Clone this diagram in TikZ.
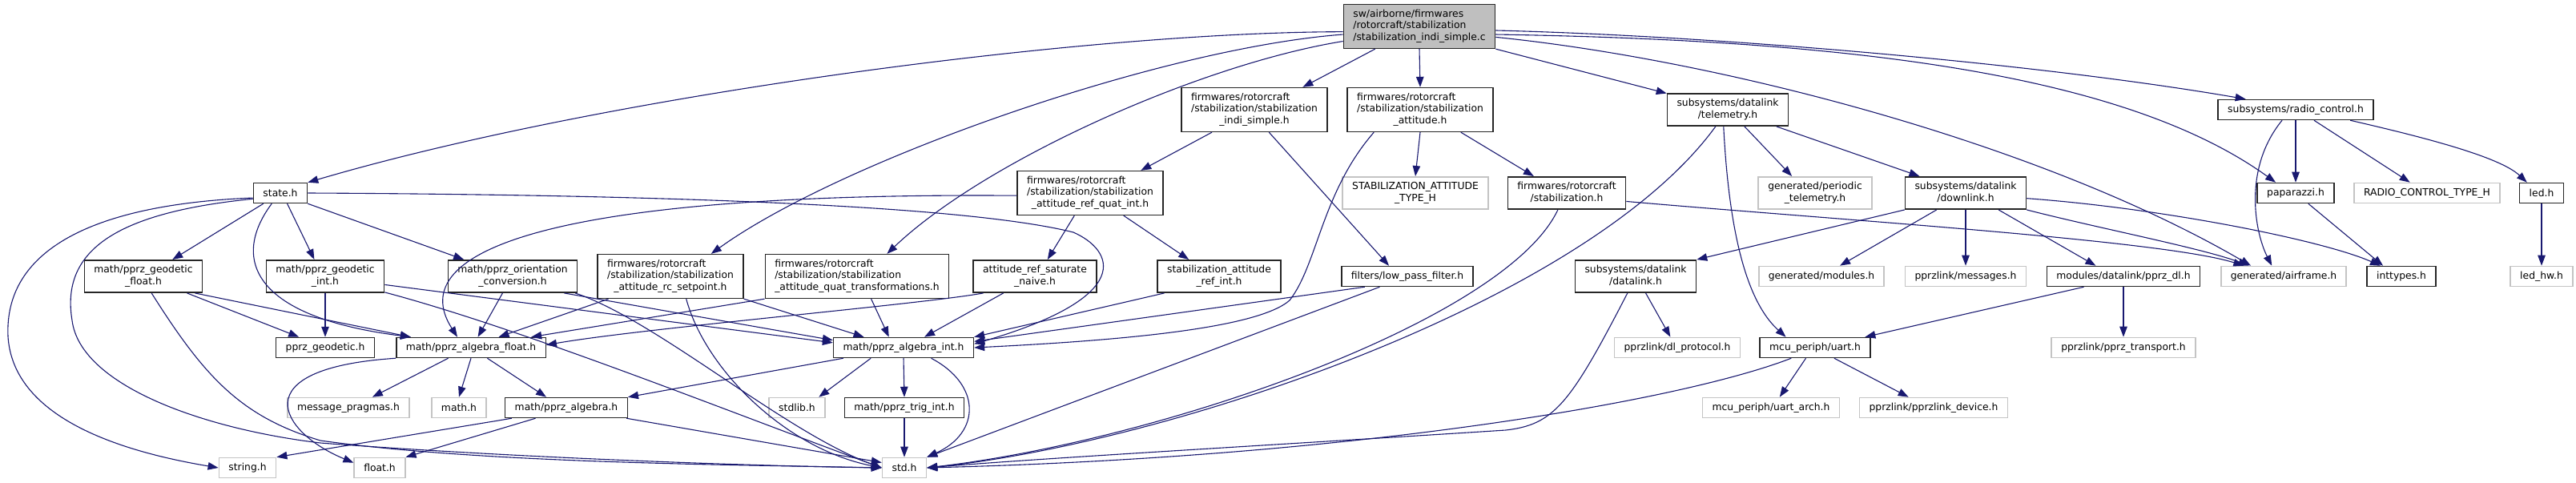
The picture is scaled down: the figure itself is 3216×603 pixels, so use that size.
\documentclass[tikz,border=0pt]{standalone}
\usepackage{fontspec}
\setmainfont{DejaVu Sans}
\usepackage{tikz}
\usetikzlibrary{arrows.meta}
\definecolor{Edge}{HTML}{191970}
\definecolor{Ghost}{HTML}{C4C4C4}
\definecolor{RootFill}{HTML}{BFBFBF}
\newcommand{\twol}[2]{\begin{tabular}{@{}l@{}}#1\\\multicolumn{1}{@{}c@{}}{#2}\end{tabular}}
\newcommand{\threel}[3]{\begin{tabular}{@{}l@{}}#1\\#2\\\multicolumn{1}{@{}c@{}}{#3}\end{tabular}}

\begin{document}
\begin{tikzpicture}[x=1bp, y=1bp,
  every node/.style={font=\fontsize{12.4}{14.5}\selectfont, inner xsep=12bp, inner ysep=5.75bp, minimum height=25bp},
  doc/.style={draw=black!85, line width=1.5bp, fill=white},
  ext/.style={draw=Ghost, line width=1.6bp, fill=white},
  main/.style={draw=black!85, line width=1.5bp, fill=RootFill},
  dep/.style={draw=Edge, line width=1.1bp, -{Triangle[length=13bp,width=9.5bp]}}]
  \useasboundingbox (0,0) rectangle (3216,-603);

  \node[main] (root) at (1772,-33) {\threel{sw/airborne/firmwares}{/rotorcraft/stabilization}{/stabilization\_indi\_simple.c}};

  \node[doc] (indi) at (1566,-137) {\threel{firmwares/rotorcraft}{/stabilization/stabilization}{\_indi\_simple.h}};
  \node[doc] (att) at (1773,-137) {\threel{firmwares/rotorcraft}{/stabilization/stabilization}{\_attitude.h}};
  \node[doc] (telem) at (2157,-137) {\twol{subsystems/datalink}{/telemetry.h}};
  \node[doc] (radio) at (2866,-137) {subsystems/radio\_control.h};

  \node[doc] (stateh) at (350,-241) {state.h};
  \node[doc] (refquat) at (1361,-241) {\threel{firmwares/rotorcraft}{/stabilization/stabilization}{\_attitude\_ref\_quat\_int.h}};
  \node[ext] (atttype) at (1767,-241) {\twol{STABILIZATION\_ATTITUDE}{\_TYPE\_H}};
  \node[doc] (stab) at (1956,-241) {\twol{firmwares/rotorcraft}{/stabilization.h}};
  \node[ext] (periodic) at (2266,-241) {\twol{generated/periodic}{\_telemetry.h}};
  \node[doc] (downlink) at (2454,-241) {\twol{subsystems/datalink}{/downlink.h}};
  \node[doc] (papa) at (2866,-241) {paparazzi.h};
  \node[ext] (rctype) at (3030,-241) {RADIO\_CONTROL\_TYPE\_H};
  \node[doc] (led) at (3173,-241) {led.h};

  \node[doc] (geofloat) at (179,-345) {\twol{math/pprz\_geodetic}{\_float.h}};
  \node[doc] (geoint) at (406,-345) {\twol{math/pprz\_geodetic}{\_int.h}};
  \node[doc] (orient) at (640,-345) {\twol{math/pprz\_orientation}{\_conversion.h}};
  \node[doc] (rcset) at (837,-345) {\threel{firmwares/rotorcraft}{/stabilization/stabilization}{\_attitude\_rc\_setpoint.h}};
  \node[doc] (quattr) at (1070,-345) {\threel{firmwares/rotorcraft}{/stabilization/stabilization}{\_attitude\_quat\_transformations.h}};
  \node[doc] (satnaive) at (1292,-345) {\twol{attitude\_ref\_saturate}{\_naive.h}};
  \node[doc] (refint) at (1522,-345) {\twol{stabilization\_attitude}{\_ref\_int.h}};
  \node[doc] (lpf) at (1757,-345) {filters/low\_pass\_filter.h};
  \node[doc] (datalink) at (2042,-345) {\twol{subsystems/datalink}{/datalink.h}};
  \node[ext] (modules) at (2274,-345) {generated/modules.h};
  \node[ext] (messages) at (2454,-345) {pprzlink/messages.h};
  \node[doc] (pprzdl) at (2651,-345) {modules/datalink/pprz\_dl.h};
  \node[ext] (airframe) at (2851,-345) {generated/airframe.h};
  \node[doc] (inttypes) at (2998,-345) {inttypes.h};
  \node[ext] (ledhw) at (3173,-345) {led\_hw.h};

  \node[doc] (geodetic) at (406,-434) {pprz\_geodetic.h};
  \node[doc] (algfloat) at (588,-434) {math/pprz\_algebra\_float.h};
  \node[doc] (algint) at (1128,-434) {math/pprz\_algebra\_int.h};
  \node[ext] (dlproto) at (2094,-434) {pprzlink/dl\_protocol.h};
  \node[doc] (uart) at (2266,-434) {mcu\_periph/uart.h};
  \node[ext] (transport) at (2651,-434) {pprzlink/pprz\_transport.h};

  \node[ext] (pragmas) at (435,-509) {message\_pragmas.h};
  \node[ext] (mathh) at (573,-509) {math.h};
  \node[doc] (algebra) at (707,-509) {math/pprz\_algebra.h};
  \node[ext] (stdlib) at (995,-509) {stdlib.h};
  \node[doc] (trig) at (1129,-509) {math/pprz\_trig\_int.h};
  \node[ext] (uartarch) at (2211,-509) {mcu\_periph/uart\_arch.h};
  \node[ext] (device) at (2414,-509) {pprzlink/pprzlink\_device.h};

  \node[ext] (stringh) at (309,-584) {string.h};
  \node[ext] (floath) at (474,-584) {float.h};
  \node[ext] (stdh) at (1129,-584) {std.h};

  \draw[dep] (root.184) .. controls (1350,-40) and (750,-120) .. (stateh.north east);
  \draw[dep] (root.186) .. controls (1450,-60) and (1050,-200) .. (rcset.29);
  \draw[dep] (root.191) .. controls (1500,-80) and (1230,-200) .. (quattr.37);
  \draw[dep] (root.207) -- (indi.25);
  \draw[dep] (root.south) -- (att.north);
  \draw[dep] (root.south east) -- (telem.165);
  \draw[dep] (root.357) .. controls (2150,-45) and (2550,-80) .. (radio.168);
  \draw[dep] (root.354) .. controls (2300,-50) and (2650,-90) .. (papa.152);
  \draw[dep] (root.352) .. controls (2150,-75) and (2550,-180) .. (airframe.162);

  \draw[dep] (indi.208) -- (refquat.24);
  \draw[dep] (indi.303) -- (lpf.150);

  \draw[dep] (att.206) .. controls (1650,-240) and (1645,-330) .. (1610,-375) .. controls (1570,-410) and (1400,-425) .. (algint.east);
  \draw[dep] (att.south) -- (atttype.north);
  \draw[dep] (att.331) -- (stab.153);

  \draw[dep] (stab.242) .. controls (1880,-400) and (1450,-550) .. (stdh.east);
  \draw[dep] (stab.352) .. controls (2300,-275) and (2700,-300) .. (airframe.165);

  \draw[dep] (telem.315) -- (periodic.144);
  \draw[dep] (telem.341) -- (downlink.160);
  \draw[dep] (telem.256) .. controls (2160,-320) and (2190,-385) .. (uart.160);
  \draw[dep] (telem.234) .. controls (1980,-380) and (1450,-555) .. (stdh.east);

  \draw[dep] (radio.south) -- (papa.north);
  \draw[dep] (radio.330) -- (rctype.148);
  \draw[dep] (radio.349) .. controls (3020,-170) and (3120,-195) .. (led.144);
  \draw[dep] (radio.218) .. controls (2800,-210) and (2815,-290) .. (airframe.138);

  \draw[dep] (papa.320) -- (inttypes.150);
  \draw[dep] (led.south) -- (ledhw.north);

  \draw[dep] (downlink.south west) -- (datalink.north east);
  \draw[dep] (downlink.210) -- (modules.30);
  \draw[dep] (downlink.south) -- (messages.north);
  \draw[dep] (downlink.333) -- (pprzdl.159);
  \draw[dep] (downlink.south east) .. controls (2620,-285) and (2750,-310) .. (airframe.163);
  \draw[dep] (downlink.355) .. controls (2700,-260) and (2900,-300) .. (inttypes.153);

  \draw[dep] (datalink.301) -- (dlproto.123);
  \draw[dep] (datalink.244) .. controls (1960,-505) and (1940,-530) .. (1880,-537) .. controls (1600,-555) and (1300,-572) .. (stdh.east);

  \draw[dep] (pprzdl.195) -- (uart.12);
  \draw[dep] (pprzdl.south) -- (transport.north);

  \draw[dep] (uart.204) .. controls (2100,-500) and (1700,-570) .. (stdh.east);
  \draw[dep] (uart.229) -- (uartarch.51);
  \draw[dep] (uart.331) -- (device.157);

  \draw[dep] (refquat.182) .. controls (700,-240) and (500,-310) .. (algfloat.142);
  \draw[dep] (refquat.235) -- (satnaive.53);
  \draw[dep] (refquat.326) -- (refint.151);

  \draw[dep] (stateh.190) .. controls (120,-255) and (5,-310) .. (10,-420) .. controls (15,-500) and (100,-555) .. (stringh.west);
  \draw[dep] (stateh.192) .. controls (150,-265) and (75,-310) .. (90,-400) .. controls (100,-480) and (250,-535) .. (400,-553) .. controls (650,-572) and (950,-582) .. (stdh.west);
  \draw[dep] (stateh.212) -- (geofloat.30);
  \draw[dep] (stateh.231) .. controls (290,-320) and (310,-395) .. (algfloat.170);
  \draw[dep] (stateh.303) -- (geoint.123);
  \draw[dep] (stateh.south east) -- (orient.161);
  \draw[dep] (stateh.east) .. controls (800,-243) and (1200,-255) .. (1340,-290) .. controls (1390,-312) and (1420,-370) .. (algint.3);

  \draw[dep] (geofloat.339) -- (geodetic.158);
  \draw[dep] (geofloat.342) -- (algfloat.170);
  \draw[dep] (geofloat.296) .. controls (255,-470) and (300,-520) .. (400,-550) .. controls (600,-578) and (900,-580) .. (stdh.west);

  \draw[dep] (geoint.south) -- (geodetic.north);
  \draw[dep] (geoint.352) -- (algint.176);
  \draw[dep] (geoint.345) .. controls (650,-410) and (900,-510) .. (stdh.west);

  \draw[dep] (orient.239) -- (algfloat.57);
  \draw[dep] (orient.342) -- (algint.174);
  \draw[dep] (orient.345) .. controls (820,-400) and (980,-540) .. (stdh.west);

  \draw[dep] (rcset.200) -- (algfloat.21);
  \draw[dep] (rcset.south east) -- (algint.165);
  \draw[dep] (rcset.305) .. controls (880,-460) and (980,-560) .. (stdh.west);

  \draw[dep] (quattr.south west) -- (algfloat.10);
  \draw[dep] (quattr.302) -- (algint.144);

  \draw[dep] (satnaive.198) .. controls (1150,-380) and (800,-410) .. (algfloat.2);
  \draw[dep] (satnaive.208) -- (algint.27);

  \draw[dep] (refint.197) -- (algint.north east);
  \draw[dep] (lpf.194) -- (algint.5);
  \draw[dep] (lpf.201) -- (stdh.north east);

  \draw[dep] (algfloat.south west) .. controls (300,-460) and (350,-540) .. (floath.169);
  \draw[dep] (algfloat.205) -- (pragmas.24);
  \draw[dep] (algfloat.south) -- (mathh.north);
  \draw[dep] (algfloat.327) -- (algebra.152);

  \draw[dep] (algebra.191) -- (stringh.north east);
  \draw[dep] (algebra.199) -- (floath.north east);
  \draw[dep] (algebra.350) -- (stdh.167);

  \draw[dep] (algint.190) -- (algebra.north east);
  \draw[dep] (algint.198) -- (stdlib.26);
  \draw[dep] (algint.south) -- (trig.north);
  \draw[dep] (algint.339) .. controls (1225,-480) and (1225,-540) .. (stdh.north east);
  \draw[dep] (trig.south) -- (stdh.north);
\end{tikzpicture}
\end{document}
